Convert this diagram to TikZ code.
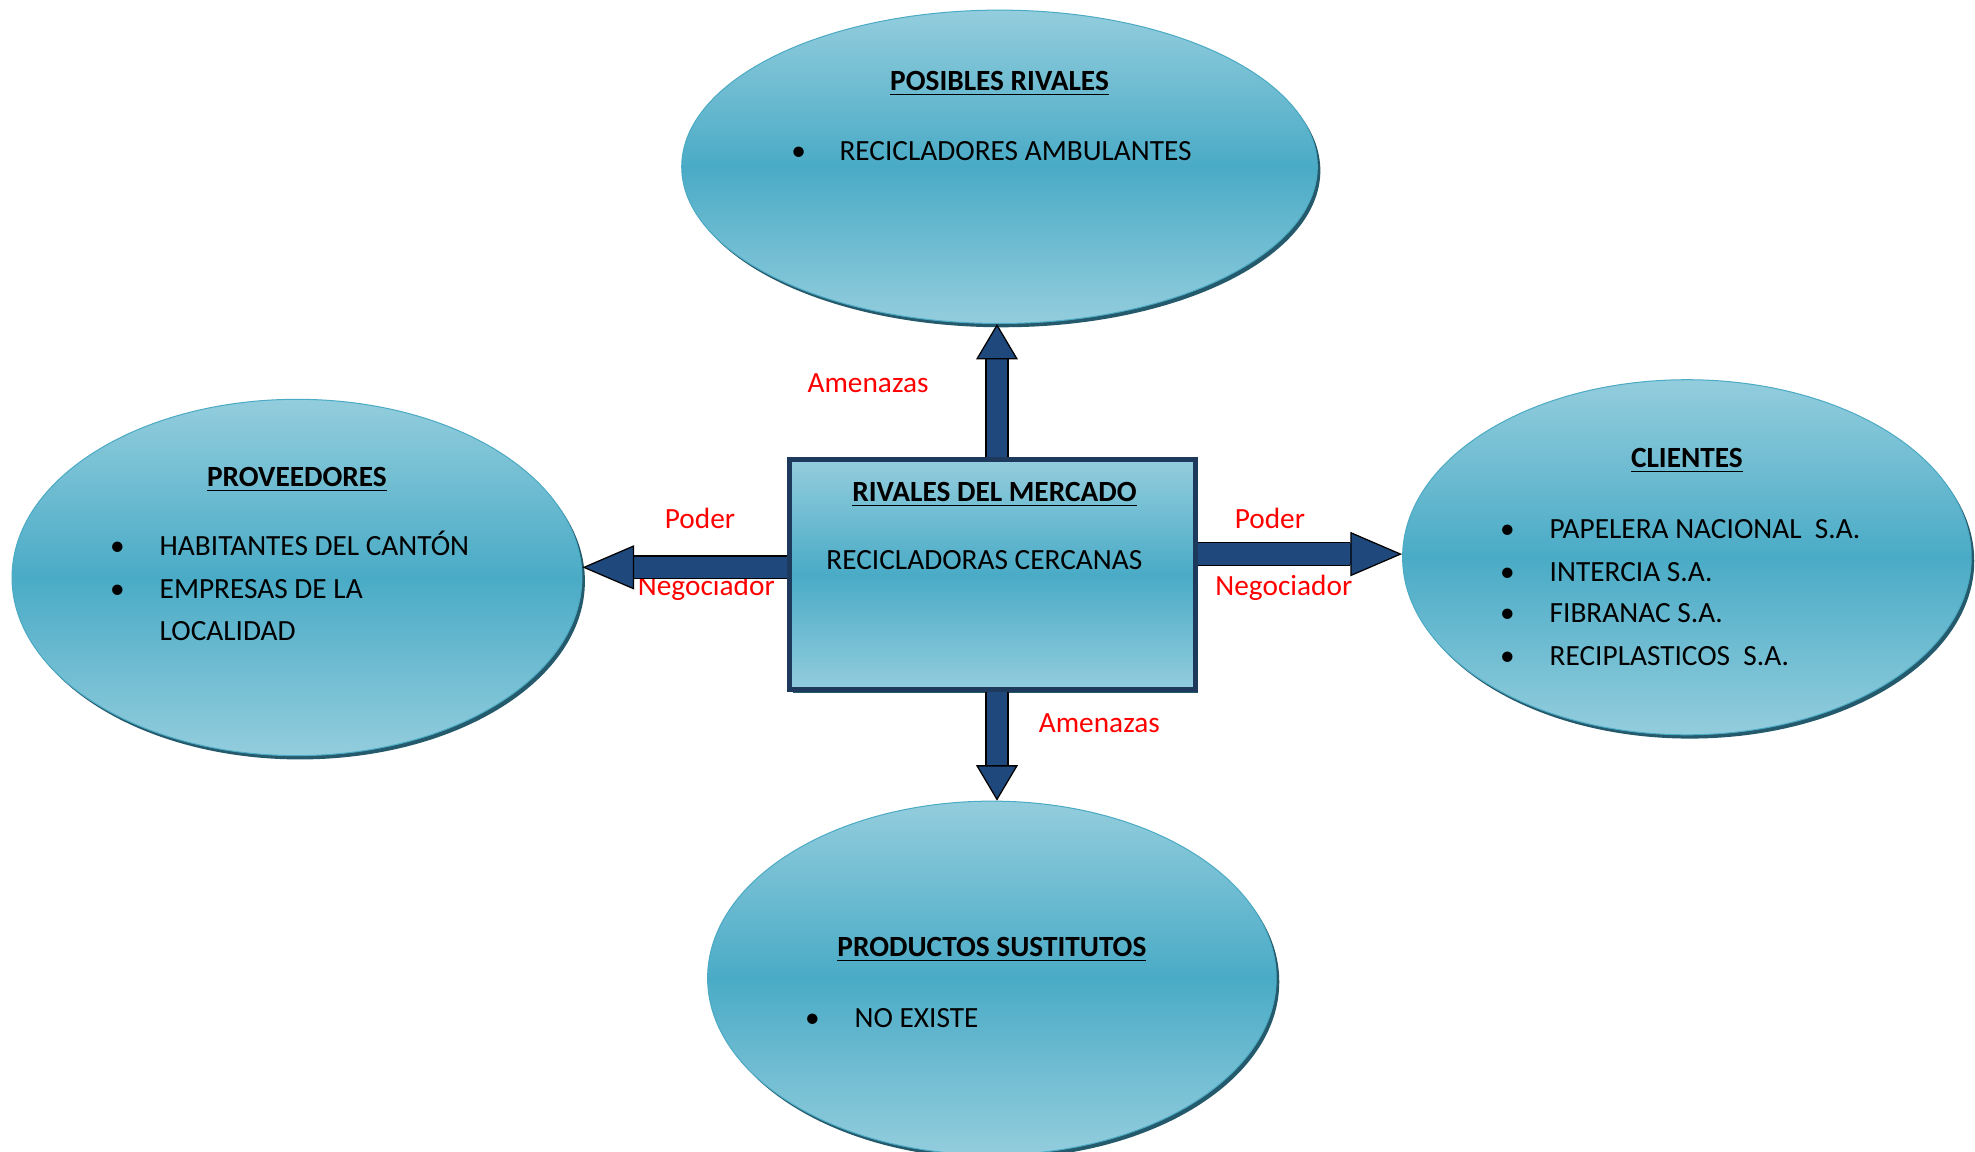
\documentclass[tikz,border=0pt]{standalone}
\usepackage{fontspec}
\setmainfont{Carlito}
\usepackage{tikz}
\usetikzlibrary{arrows.meta,positioning,shapes.geometric,shadows}
\definecolor{aquaLight}{HTML}{93CDDD}
\definecolor{aquaDark}{HTML}{4AABC6}
\definecolor{aquaLine}{HTML}{4BAAC4}
\definecolor{shadowTeal}{HTML}{245A6B}
\definecolor{boxLine}{HTML}{1D3A5C}
\definecolor{navyArrow}{HTML}{1F497D}
\tikzset{
    %Define style for the ellipses
    fuerza/.style={
           ellipse,
           draw=aquaLine, thin,
           inner sep=0pt,
           top color=aquaLight, bottom color=aquaLight, middle color=aquaDark,
           drop shadow={shadow xshift=1.2pt, shadow yshift=-1.5pt,
                        fill=shadowTeal, opacity=1}
           },
    %Define style for the box
    mercado/.style={
           rectangle,
           draw=boxLine, line width=2pt,
           inner sep=0pt,
           top color=aquaLight, bottom color=aquaLight, middle color=aquaDark,
           drop shadow={shadow xshift=1.2pt, shadow yshift=-1.2pt,
                        fill=shadowTeal, opacity=1}
           },
    titulo/.style={anchor=base},
    punto/.style={anchor=base},
    item/.style={anchor=base west, inner sep=0pt},
    rojo/.style={anchor=base, text=red},
    % Define arrow styles
    flechaV/.style={
           draw=navyArrow, line width=8.3pt,
           -{Triangle[width=16.5pt, length=14pt, color=black, fill=navyArrow, line width=0.5pt]},
           preaction={draw=black, line width=9.3pt, -, shorten >=14pt}},
    flechaH/.style={
           draw=navyArrow, line width=8.5pt,
           -{Triangle[width=17.5pt, length=20.5pt, color=black, fill=navyArrow, line width=0.5pt]},
           preaction={draw=black, line width=9.5pt, -, shorten >=20.5pt}}
}
\begin{document}
\fontsize{11.6pt}{14pt}\selectfont
\begin{tikzpicture}[x=0.5pt,y=-0.5pt]
\useasboundingbox (0,0) rectangle (1563,911);

 %nodes
\node[fuerza, minimum width=251.5pt, minimum height=124pt](rivales) at (791,132){};
\node[fuerza, minimum width=225.5pt, minimum height=141pt](proveedores) at (235,457){};
\node[fuerza, minimum width=225pt, minimum height=140.5pt](clientes) at (1335,441){};
\node[fuerza, minimum width=225pt, minimum height=140pt](sustitutos) at (785,774){};
\node[mercado, minimum width=160.5pt, minimum height=91pt](mercado) at (785.5,455){};

 %texts
\node[titulo](tRivales) at (791,72){\textbf{\underline{POSIBLES RIVALES}}};
\node[punto](p1) at (632,127){\textbullet};
\node[item](i1) at (664,127){RECICLADORES AMBULANTES};

\node[titulo](tProveedores) at (235,385){\textbf{\underline{PROVEEDORES}}};
\node[punto](p2) at (93,440){\textbullet};
\node[item](i2) at (126,440){HABITANTES DEL CANTÓN};
\node[punto](p3) at (93,474){\textbullet};
\node[item](i3) at (126,474){EMPRESAS DE LA};
\node[item](i4) at (126,507){LOCALIDAD};

\node[titulo](tMercado) at (787,397){\textbf{\underline{RIVALES DEL MERCADO}}};
\node[titulo](sMercado) at (779,451){RECICLADORAS CERCANAS};

\node[titulo](tClientes) at (1335,370){\textbf{\underline{CLIENTES}}};
\node[punto](p4) at (1193,426){\textbullet};
\node[item](i5) at (1226,426){PAPELERA NACIONAL\ \ S.A.};
\node[punto](p5) at (1193,460){\textbullet};
\node[item](i6) at (1226,460){INTERCIA S.A.};
\node[punto](p6) at (1193,493){\textbullet};
\node[item](i7) at (1226,493){FIBRANAC S.A.};
\node[punto](p7) at (1193,527){\textbullet};
\node[item](i8) at (1226,527){RECIPLASTICOS\ \ S.A.};

\node[titulo](tSustitutos) at (785,757){\textbf{\underline{PRODUCTOS SUSTITUTOS}}};
\node[punto](p8) at (643,813){\textbullet};
\node[item](i9) at (676,813){NO EXISTE};

\node[rojo](a1) at (687,311){Amenazas};
\node[rojo](a2) at (870,580){Amenazas};
\node[rojo](po1) at (554,418){Poder};
\node[rojo](n1) at (559,471){Negociador};
\node[rojo](po2) at (1005,418){Poder};
\node[rojo](n2) at (1016,471){Negociador};

 %arrows
\coordinate (ejeV) at (789,0);
\coordinate (ejeI) at (0,449);
\coordinate (ejeD) at (0,438.5);
\draw[flechaV] (mercado.north -| ejeV) -- (rivales.south -| ejeV);
\draw[flechaV] (mercado.south -| ejeV) -- (sustitutos.north -| ejeV);
\draw[flechaH] (mercado.west |- ejeI) -- (proveedores.east |- ejeI);
\draw[flechaH] (mercado.east |- ejeD) -- (clientes.west |- ejeD);

\end{tikzpicture}
\end{document}
